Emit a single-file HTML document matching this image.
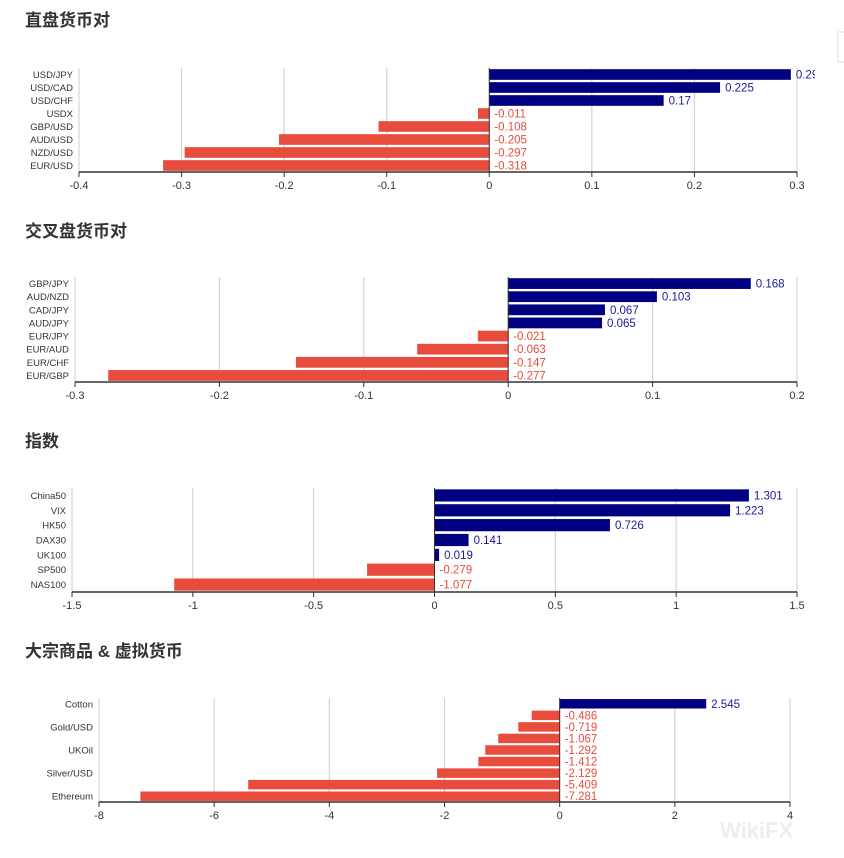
<!DOCTYPE html>
<html><head><meta charset="utf-8"><style>
html,body{margin:0;padding:0;background:#fff;width:844px;height:858px;overflow:hidden}
svg{display:block}
</style></head><body>
<svg id="s" width="844" height="858" xmlns="http://www.w3.org/2000/svg" font-family="Liberation Sans, Noto Sans CJK SC, sans-serif">
<defs><clipPath id="c1"><rect x="0" y="0" width="815" height="858"/></clipPath></defs>
<rect x="838" y="32" width="10" height="30" fill="none" stroke="#ddd"/>
</svg>
<script>
var s=document.getElementById('s');
function el(t,a,txt){var e=document.createElementNS('http://www.w3.org/2000/svg',t);for(var k in a)e.setAttribute(k,a[k]);if(txt!=null)e.textContent=txt;s.appendChild(e);return e;}
var charts=[
{title:'直盘货币对',ty:26,top:68,bot:172,min:-0.4,max:0.3,x0:79,x1:797,step:0.1,
 names:['USD/JPY','USD/CAD','USD/CHF','USDX','GBP/USD','AUD/USD','NZD/USD','EUR/USD'],
 vals:[0.294,0.225,0.17,-0.011,-0.108,-0.205,-0.297,-0.318],labs:['0.294','0.225','0.17','-0.011','-0.108','-0.205','-0.297','-0.318']},
{title:'交叉盘货币对',ty:237,top:277,bot:382,min:-0.3,max:0.2,x0:75,x1:797,step:0.1,zx:511,
 names:['GBP/JPY','AUD/NZD','CAD/JPY','AUD/JPY','EUR/JPY','EUR/AUD','EUR/CHF','EUR/GBP'],
 vals:[0.168,0.103,0.067,0.065,-0.021,-0.063,-0.147,-0.277]},
{title:'指数',ty:447,top:488,bot:592,min:-1.5,max:1.5,x0:72,x1:797,step:0.5,
 names:['China50','VIX','HK50','DAX30','UK100','SP500','NAS100'],
 vals:[1.301,1.223,0.726,0.141,0.019,-0.279,-1.077]},
{title:'大宗商品 & 虚拟货币',ty:657,top:698,bot:802,min:-8,max:4,x0:99,x1:790,step:2,
 names:['Cotton','','Gold/USD','','UKOil','','Silver/USD','','Ethereum'],
 vals:[2.545,-0.486,-0.719,-1.067,-1.292,-1.412,-2.129,-5.409,-7.281]}
];
charts.forEach(function(c,ci){
 el('text',{x:25,y:c.ty,'font-size':17,'font-weight':'bold',fill:'#333'},c.title);
 var sc=function(v){return c.x0+(v-c.min)/(c.max-c.min)*(c.x1-c.x0);};
 var n=Math.round((c.max-c.min)/c.step);
 for(var i=0;i<=n;i++){var v=c.min+i*c.step;var x=sc(v);
  el('line',{x1:x,y1:c.top,x2:x,y2:c.bot,stroke:'#ccc','stroke-width':1});
  el('line',{x1:x,y1:c.bot,x2:x,y2:c.bot+5,stroke:'#333','stroke-width':1});
  var t=Math.round(v*10)/10;el('text',{x:x,y:c.bot+17,'font-size':11,fill:'#333','text-anchor':'middle'},String(t));}
 var z=sc(0);
 var N=c.vals.length,bh=(c.bot-c.top)/N;
 c.vals.forEach(function(v,i){
  var y=c.top+i*bh, h=bh*0.82, yy=y+(bh-h)/2;
  var x=Math.min(z,sc(v)),w=Math.abs(sc(v)-z);
  var col=v>=0?'#000080':'#e84c3d';
  el('rect',{x:x,y:yy,width:Math.max(w,1),height:h,fill:col});
  var lab=c.labs?c.labs[i]:String(v);
  var lx=(v>=0?sc(v):z)+5;
  var t=el('text',{x:lx,y:y+bh/2+4,'font-size':11.5,fill:v>=0?'#1a1a99':'#e84c3d'},lab);
  if(ci==0)t.setAttribute('clip-path','url(#c1)');
  if(c.names[i])el('text',{x:c.x0-6,y:y+bh/2+3.5,'font-size':9.5,fill:'#333','text-anchor':'end'},c.names[i]);
 });
 el('line',{x1:z,y1:c.top,x2:z,y2:c.bot,stroke:'#333','stroke-width':1});
 el('line',{x1:c.x0,y1:c.top,x2:c.x0,y2:c.bot,stroke:'#ccc','stroke-width':1});
 el('line',{x1:c.x0,y1:c.bot,x2:c.x1,y2:c.bot,stroke:'#333','stroke-width':1.5});
});
el('text',{x:720,y:838,'font-size':22,'font-weight':'bold',fill:'#eee'},'WikiFX');
</script>
</body></html>
